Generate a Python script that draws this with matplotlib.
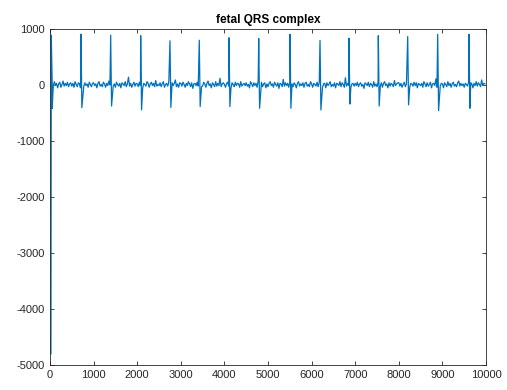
import numpy as np
import matplotlib
matplotlib.use("Agg")
import matplotlib.pyplot as plt

# --- Data ---
# QRS events: sample index, peak value, trough value
spike_x = [0, 711, 1392, 2080, 2752, 3424, 4106, 4787,
           5505, 6193, 6858, 7530, 8204, 8892, 9610]
peak_y = [890, 910, 890, 880, 790, 800, 845, 830,
          905, 795, 835, 880, 865, 905, 905]
trough_y = [-420, -405, -375, -445, -400, -385, -385, -415,
            -415, -445, -340, -375, -355, -460, -415]
start_value = -4800  # first samples drop to about -4800

# baseline ripple, one value every 25 samples (estimated)
baseline_step = 25
baseline_y = [
    10, -30, 40, -20, 60, -10, 30, -50, 20, 50, -40, 10, 70, -20, 30, -10, 50, -30, 20, 40,
    -20, 30, -40, 60, 10, -30, 40, 20, -50, 30, 110, -20, 40, -10, 20, -40, 50, 10, -30, 30,
    40, -10, 20, -50, 30, 60, -20, 10, -30, 50, 20, -40, 30, -10, 70, 0, -30, 40, -20, 20,
    -40, 50, 10, -20, 30, -50, 40, 20, -10, 60, -30, 20, 140, -20, 30, -40, 10, 50, -20, 30,
    20, -30, 50, -10, 40, -60, 30, 10, -20, 60, 30, -40, 20, 50, -10, 30, -30, 80, -20, 10,
    -10, 40, -30, 20, 60, -40, 10, 30, -20, 50, -50, 20, 40, -10, 30, 90, -30, 20, -40, 40,
    30, -20, 50, 10, -40, 30, -10, 60, 20, -30, 40, -60, 20, 30, -10, 50, -20, 10, 40, -30,
    -20, 50, 20, -40, 30, 70, -10, 20, -50, 40, 10, -30, 60, -20, 30, -10, 120, -30, 20, 40,
    10, -40, 30, 50, -20, 20, -60, 40, 10, -30, 50, -10, 30, 20, -40, 60, -20, 10, 30, -10,
    40, -20, 10, -50, 60, 20, -30, 40, -10, 30, -40, 70, 10, -20, 50, -30, 20, 40, -50, 20,
    -30, 30, 60, -10, 20, -40, 50, 10, -20, 40, -60, 30, 20, -30, 100, -20, 40, -10, 30, -40,
    50, -10, 20, -30, 40, 10, -50, 30, 60, -20, 20, -10, 40, -40, 30, 50, -20, 10, -30, 60,
    20, -40, 30, 10, -20, 50, -30, 40, -10, 70, -40, 20, 30, -50, 40, -10, 20, 60, -30, 10,
    -20, 40, -50, 30, 20, -10, 60, -30, 40, 10, -40, 130, -20, 30, -10, 50, -40, 20, 30, -20,
    30, -10, 50, -30, 20, 40, -20, 10, -60, 40, 20, -10, 50, -30, 30, 10, -40, 60, -20, 20,
    -30, 50, 10, -20, 40, -40, 30, 60, -10, 20, -50, 40, -20, 30, 10, -30, 80, -10, 20, 40,
    40, -20, 30, -40, 10, 50, -30, 20, -10, 60, -40, 30, 20, -20, 50, -10, 40, -50, 30, 10,
    -10, 30, -40, 60, 20, -30, 40, -20, 10, 50, -50, 20, 30, -10, 110, -40, 20, 40, -20, 30,
    20, -50, 40, 10, -30, 60, -10, 30, -40, 20, 50, -20, 10, -30, 40, 70, -20, 30, -10, 20,
    -40, 30, 10, -20, 50, -30, 40, 20, -50, 30, -10, 60, -20, 40, 10, -30, 90, -10, 30, 20,
]

# --- Build the trace vertices ---
pts = []
bx = np.arange(len(baseline_y)) * baseline_step
for x, y in zip(bx, baseline_y):
    if not any(s - 5 < x < s + 40 for s in spike_x):
        pts.append((x, y))
for s, p, t in zip(spike_x, peak_y, trough_y):
    if s == 0:
        pts.append((22, start_value))
        s = 30
    pts.append((s, p))
    pts.append((s + 20, t))
pts.sort(key=lambda v: v[0])
xs = [v[0] for v in pts]
ys = [v[1] for v in pts]

# --- Plot ---
plt.rcParams['font.family'] = ['Liberation Sans', 'DejaVu Sans']
plt.rcParams['axes.unicode_minus'] = False

fig = plt.figure(figsize=(5.07, 3.90), dpi=100)
ax = fig.add_axes([0.0986, 0.0641, 0.86, 0.8615])
ax.plot(xs, ys, color='#0072BD', linewidth=0.9)

ax.set_xlim(0, 10000)
ax.set_ylim(-5000, 1000)
ax.set_xticks(np.arange(0, 10001, 1000))
ax.set_yticks(np.arange(-5000, 1001, 1000))
ax.set_title("fetal QRS complex", fontsize=8.5, fontweight='bold', pad=4)

ax.tick_params(direction='in', length=3, width=0.6, labelsize=8,
               colors='#262626', top=True, right=True)
for sp in ax.spines.values():
    sp.set_color('#262626')
    sp.set_linewidth(0.6)

fig.savefig("out.png", dpi=100)
